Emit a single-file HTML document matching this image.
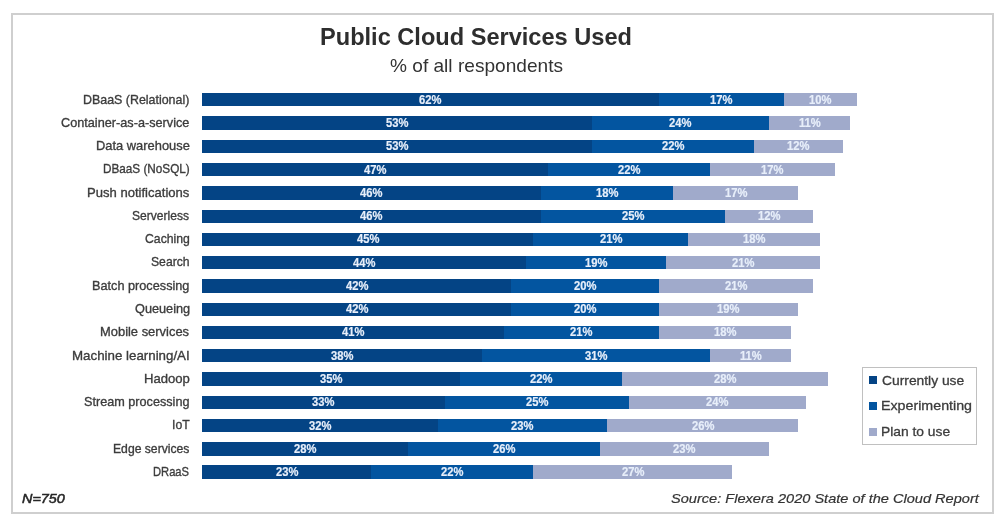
<!DOCTYPE html><html><head><meta charset="utf-8"><style>
html,body{margin:0;padding:0;background:#fff;}
body{width:1005px;height:523px;position:relative;overflow:hidden;font-family:"Liberation Sans",sans-serif;}
.frame{position:absolute;left:11px;top:13px;width:983px;height:501px;border:2px solid #cfcfcf;box-sizing:border-box;}
.b{position:absolute;}
.t{position:absolute;white-space:nowrap;transform-origin:0 0;font-family:"Liberation Sans",sans-serif;}
</style></head><body>
<div id="w" style="position:absolute;left:0;top:0;width:1005px;height:523px;filter:blur(0.4px);"><div class="frame"></div>
<div class="t" style="left:320.04px;top:25.26px;font-size:24.5px;line-height:24.5px;font-weight:bold;font-style:normal;color:#2e2e2e;transform:scaleX(0.9625);">Public Cloud Services Used</div>
<div class="t" style="left:389.60px;top:58.33px;font-size:17.8px;line-height:17.8px;font-weight:normal;font-style:normal;color:#333333;transform:scaleX(1.0736);">% of all respondents</div>
<div class="b" style="left:202.20px;top:93.15px;width:456.32px;height:13.35px;background:#044485;"></div>
<div class="b" style="left:658.52px;top:93.15px;width:125.12px;height:13.35px;background:#0355a0;"></div>
<div class="b" style="left:783.64px;top:93.15px;width:73.60px;height:13.35px;background:#a0aacb;"></div>
<div class="t" style="left:83.37px;top:92.57px;font-size:13.3px;line-height:13.3px;font-weight:normal;font-style:normal;color:#3c3c3c;transform:scaleX(0.9343);-webkit-text-stroke:0.35px #3c3c3c;">DBaaS (Relational)</div>
<div class="b" style="left:202.20px;top:116.42px;width:390.08px;height:13.35px;background:#044485;"></div>
<div class="b" style="left:592.28px;top:116.42px;width:176.64px;height:13.35px;background:#0355a0;"></div>
<div class="b" style="left:768.92px;top:116.42px;width:80.96px;height:13.35px;background:#a0aacb;"></div>
<div class="t" style="left:61.30px;top:115.84px;font-size:13.3px;line-height:13.3px;font-weight:normal;font-style:normal;color:#3c3c3c;transform:scaleX(0.9545);-webkit-text-stroke:0.35px #3c3c3c;">Container-as-a-service</div>
<div class="b" style="left:202.20px;top:139.69px;width:390.08px;height:13.35px;background:#044485;"></div>
<div class="b" style="left:592.28px;top:139.69px;width:161.92px;height:13.35px;background:#0355a0;"></div>
<div class="b" style="left:754.20px;top:139.69px;width:88.32px;height:13.35px;background:#a0aacb;"></div>
<div class="t" style="left:95.83px;top:139.11px;font-size:13.3px;line-height:13.3px;font-weight:normal;font-style:normal;color:#3c3c3c;transform:scaleX(0.9692);-webkit-text-stroke:0.35px #3c3c3c;">Data warehouse</div>
<div class="b" style="left:202.20px;top:162.96px;width:345.92px;height:13.35px;background:#044485;"></div>
<div class="b" style="left:548.12px;top:162.96px;width:161.92px;height:13.35px;background:#0355a0;"></div>
<div class="b" style="left:710.04px;top:162.96px;width:125.12px;height:13.35px;background:#a0aacb;"></div>
<div class="t" style="left:102.92px;top:162.38px;font-size:13.3px;line-height:13.3px;font-weight:normal;font-style:normal;color:#3c3c3c;transform:scaleX(0.8827);-webkit-text-stroke:0.35px #3c3c3c;">DBaaS (NoSQL)</div>
<div class="b" style="left:202.20px;top:186.23px;width:338.56px;height:13.35px;background:#044485;"></div>
<div class="b" style="left:540.76px;top:186.23px;width:132.48px;height:13.35px;background:#0355a0;"></div>
<div class="b" style="left:673.24px;top:186.23px;width:125.12px;height:13.35px;background:#a0aacb;"></div>
<div class="t" style="left:86.62px;top:185.65px;font-size:13.3px;line-height:13.3px;font-weight:normal;font-style:normal;color:#3c3c3c;transform:scaleX(0.9819);-webkit-text-stroke:0.35px #3c3c3c;">Push notifications</div>
<div class="b" style="left:202.20px;top:209.50px;width:338.56px;height:13.35px;background:#044485;"></div>
<div class="b" style="left:540.76px;top:209.50px;width:184.00px;height:13.35px;background:#0355a0;"></div>
<div class="b" style="left:724.76px;top:209.50px;width:88.32px;height:13.35px;background:#a0aacb;"></div>
<div class="t" style="left:132.00px;top:208.92px;font-size:13.3px;line-height:13.3px;font-weight:normal;font-style:normal;color:#3c3c3c;transform:scaleX(0.9072);-webkit-text-stroke:0.35px #3c3c3c;">Serverless</div>
<div class="b" style="left:202.20px;top:232.77px;width:331.20px;height:13.35px;background:#044485;"></div>
<div class="b" style="left:533.40px;top:232.77px;width:154.56px;height:13.35px;background:#0355a0;"></div>
<div class="b" style="left:687.96px;top:232.77px;width:132.48px;height:13.35px;background:#a0aacb;"></div>
<div class="t" style="left:144.80px;top:232.19px;font-size:13.3px;line-height:13.3px;font-weight:normal;font-style:normal;color:#3c3c3c;transform:scaleX(0.9196);-webkit-text-stroke:0.35px #3c3c3c;">Caching</div>
<div class="b" style="left:202.20px;top:256.04px;width:323.84px;height:13.35px;background:#044485;"></div>
<div class="b" style="left:526.04px;top:256.04px;width:139.84px;height:13.35px;background:#0355a0;"></div>
<div class="b" style="left:665.88px;top:256.04px;width:154.56px;height:13.35px;background:#a0aacb;"></div>
<div class="t" style="left:151.10px;top:255.46px;font-size:13.3px;line-height:13.3px;font-weight:normal;font-style:normal;color:#3c3c3c;transform:scaleX(0.9153);-webkit-text-stroke:0.35px #3c3c3c;">Search</div>
<div class="b" style="left:202.20px;top:279.31px;width:309.12px;height:13.35px;background:#044485;"></div>
<div class="b" style="left:511.32px;top:279.31px;width:147.20px;height:13.35px;background:#0355a0;"></div>
<div class="b" style="left:658.52px;top:279.31px;width:154.56px;height:13.35px;background:#a0aacb;"></div>
<div class="t" style="left:92.24px;top:278.73px;font-size:13.3px;line-height:13.3px;font-weight:normal;font-style:normal;color:#3c3c3c;transform:scaleX(0.9552);-webkit-text-stroke:0.35px #3c3c3c;">Batch processing</div>
<div class="b" style="left:202.20px;top:302.58px;width:309.12px;height:13.35px;background:#044485;"></div>
<div class="b" style="left:511.32px;top:302.58px;width:147.20px;height:13.35px;background:#0355a0;"></div>
<div class="b" style="left:658.52px;top:302.58px;width:139.84px;height:13.35px;background:#a0aacb;"></div>
<div class="t" style="left:134.50px;top:302.00px;font-size:13.3px;line-height:13.3px;font-weight:normal;font-style:normal;color:#3c3c3c;transform:scaleX(0.9568);-webkit-text-stroke:0.35px #3c3c3c;">Queueing</div>
<div class="b" style="left:202.20px;top:325.85px;width:301.76px;height:13.35px;background:#044485;"></div>
<div class="b" style="left:503.96px;top:325.85px;width:154.56px;height:13.35px;background:#0355a0;"></div>
<div class="b" style="left:658.52px;top:325.85px;width:132.48px;height:13.35px;background:#a0aacb;"></div>
<div class="t" style="left:99.93px;top:325.27px;font-size:13.3px;line-height:13.3px;font-weight:normal;font-style:normal;color:#3c3c3c;transform:scaleX(0.9716);-webkit-text-stroke:0.35px #3c3c3c;">Mobile services</div>
<div class="b" style="left:202.20px;top:349.12px;width:279.68px;height:13.35px;background:#044485;"></div>
<div class="b" style="left:481.88px;top:349.12px;width:228.16px;height:13.35px;background:#0355a0;"></div>
<div class="b" style="left:710.04px;top:349.12px;width:80.96px;height:13.35px;background:#a0aacb;"></div>
<div class="t" style="left:72.30px;top:348.54px;font-size:13.3px;line-height:13.3px;font-weight:normal;font-style:normal;color:#3c3c3c;transform:scaleX(1.0015);-webkit-text-stroke:0.35px #3c3c3c;">Machine learning/AI</div>
<div class="b" style="left:202.20px;top:372.39px;width:257.60px;height:13.35px;background:#044485;"></div>
<div class="b" style="left:459.80px;top:372.39px;width:161.92px;height:13.35px;background:#0355a0;"></div>
<div class="b" style="left:621.72px;top:372.39px;width:206.08px;height:13.35px;background:#a0aacb;"></div>
<div class="t" style="left:143.82px;top:371.81px;font-size:13.3px;line-height:13.3px;font-weight:normal;font-style:normal;color:#3c3c3c;transform:scaleX(0.9849);-webkit-text-stroke:0.35px #3c3c3c;">Hadoop</div>
<div class="b" style="left:202.20px;top:395.66px;width:242.88px;height:13.35px;background:#044485;"></div>
<div class="b" style="left:445.08px;top:395.66px;width:184.00px;height:13.35px;background:#0355a0;"></div>
<div class="b" style="left:629.08px;top:395.66px;width:176.64px;height:13.35px;background:#a0aacb;"></div>
<div class="t" style="left:84.20px;top:395.08px;font-size:13.3px;line-height:13.3px;font-weight:normal;font-style:normal;color:#3c3c3c;transform:scaleX(0.9515);-webkit-text-stroke:0.35px #3c3c3c;">Stream processing</div>
<div class="b" style="left:202.20px;top:418.93px;width:235.52px;height:13.35px;background:#044485;"></div>
<div class="b" style="left:437.72px;top:418.93px;width:169.28px;height:13.35px;background:#0355a0;"></div>
<div class="b" style="left:607.00px;top:418.93px;width:191.36px;height:13.35px;background:#a0aacb;"></div>
<div class="t" style="left:171.78px;top:418.35px;font-size:13.3px;line-height:13.3px;font-weight:normal;font-style:normal;color:#3c3c3c;transform:scaleX(0.9177);-webkit-text-stroke:0.35px #3c3c3c;">IoT</div>
<div class="b" style="left:202.20px;top:442.20px;width:206.08px;height:13.35px;background:#044485;"></div>
<div class="b" style="left:408.28px;top:442.20px;width:191.36px;height:13.35px;background:#0355a0;"></div>
<div class="b" style="left:599.64px;top:442.20px;width:169.28px;height:13.35px;background:#a0aacb;"></div>
<div class="t" style="left:112.59px;top:441.62px;font-size:13.3px;line-height:13.3px;font-weight:normal;font-style:normal;color:#3c3c3c;transform:scaleX(0.9147);-webkit-text-stroke:0.35px #3c3c3c;">Edge services</div>
<div class="b" style="left:202.20px;top:465.47px;width:169.28px;height:13.35px;background:#044485;"></div>
<div class="b" style="left:371.48px;top:465.47px;width:161.92px;height:13.35px;background:#0355a0;"></div>
<div class="b" style="left:533.40px;top:465.47px;width:198.72px;height:13.35px;background:#a0aacb;"></div>
<div class="t" style="left:153.16px;top:464.89px;font-size:13.3px;line-height:13.3px;font-weight:normal;font-style:normal;color:#3c3c3c;transform:scaleX(0.8406);-webkit-text-stroke:0.35px #3c3c3c;">DRaaS</div>
<div class="t" style="left:419.21px;top:93.72px;font-size:12.5px;line-height:12.5px;font-weight:bold;font-style:normal;color:#e8effa;transform:scaleX(0.8954);-webkit-text-stroke:0.2px #e8effa;">62%</div>
<div class="t" style="left:709.93px;top:93.72px;font-size:12.5px;line-height:12.5px;font-weight:bold;font-style:normal;color:#e8effa;transform:scaleX(0.8954);-webkit-text-stroke:0.2px #e8effa;">17%</div>
<div class="t" style="left:809.29px;top:93.72px;font-size:12.5px;line-height:12.5px;font-weight:bold;font-style:normal;color:#e8effa;transform:scaleX(0.8954);-webkit-text-stroke:0.2px #e8effa;">10%</div>
<div class="t" style="left:386.09px;top:116.99px;font-size:12.5px;line-height:12.5px;font-weight:bold;font-style:normal;color:#e8effa;transform:scaleX(0.8954);-webkit-text-stroke:0.2px #e8effa;">53%</div>
<div class="t" style="left:669.45px;top:116.99px;font-size:12.5px;line-height:12.5px;font-weight:bold;font-style:normal;color:#e8effa;transform:scaleX(0.8954);-webkit-text-stroke:0.2px #e8effa;">24%</div>
<div class="t" style="left:798.56px;top:116.99px;font-size:12.5px;line-height:12.5px;font-weight:bold;font-style:normal;color:#e8effa;transform:scaleX(0.8954);-webkit-text-stroke:0.2px #e8effa;">11%</div>
<div class="t" style="left:386.09px;top:140.26px;font-size:12.5px;line-height:12.5px;font-weight:bold;font-style:normal;color:#e8effa;transform:scaleX(0.8954);-webkit-text-stroke:0.2px #e8effa;">53%</div>
<div class="t" style="left:662.09px;top:140.26px;font-size:12.5px;line-height:12.5px;font-weight:bold;font-style:normal;color:#e8effa;transform:scaleX(0.8954);-webkit-text-stroke:0.2px #e8effa;">22%</div>
<div class="t" style="left:787.21px;top:140.26px;font-size:12.5px;line-height:12.5px;font-weight:bold;font-style:normal;color:#e8effa;transform:scaleX(0.8954);-webkit-text-stroke:0.2px #e8effa;">12%</div>
<div class="t" style="left:364.01px;top:163.53px;font-size:12.5px;line-height:12.5px;font-weight:bold;font-style:normal;color:#e8effa;transform:scaleX(0.8954);-webkit-text-stroke:0.2px #e8effa;">47%</div>
<div class="t" style="left:617.93px;top:163.53px;font-size:12.5px;line-height:12.5px;font-weight:bold;font-style:normal;color:#e8effa;transform:scaleX(0.8954);-webkit-text-stroke:0.2px #e8effa;">22%</div>
<div class="t" style="left:761.45px;top:163.53px;font-size:12.5px;line-height:12.5px;font-weight:bold;font-style:normal;color:#e8effa;transform:scaleX(0.8954);-webkit-text-stroke:0.2px #e8effa;">17%</div>
<div class="t" style="left:360.33px;top:186.80px;font-size:12.5px;line-height:12.5px;font-weight:bold;font-style:normal;color:#e8effa;transform:scaleX(0.8954);-webkit-text-stroke:0.2px #e8effa;">46%</div>
<div class="t" style="left:595.85px;top:186.80px;font-size:12.5px;line-height:12.5px;font-weight:bold;font-style:normal;color:#e8effa;transform:scaleX(0.8954);-webkit-text-stroke:0.2px #e8effa;">18%</div>
<div class="t" style="left:724.65px;top:186.80px;font-size:12.5px;line-height:12.5px;font-weight:bold;font-style:normal;color:#e8effa;transform:scaleX(0.8954);-webkit-text-stroke:0.2px #e8effa;">17%</div>
<div class="t" style="left:360.33px;top:210.07px;font-size:12.5px;line-height:12.5px;font-weight:bold;font-style:normal;color:#e8effa;transform:scaleX(0.8954);-webkit-text-stroke:0.2px #e8effa;">46%</div>
<div class="t" style="left:621.61px;top:210.07px;font-size:12.5px;line-height:12.5px;font-weight:bold;font-style:normal;color:#e8effa;transform:scaleX(0.8954);-webkit-text-stroke:0.2px #e8effa;">25%</div>
<div class="t" style="left:757.77px;top:210.07px;font-size:12.5px;line-height:12.5px;font-weight:bold;font-style:normal;color:#e8effa;transform:scaleX(0.8954);-webkit-text-stroke:0.2px #e8effa;">12%</div>
<div class="t" style="left:356.65px;top:233.34px;font-size:12.5px;line-height:12.5px;font-weight:bold;font-style:normal;color:#e8effa;transform:scaleX(0.8954);-webkit-text-stroke:0.2px #e8effa;">45%</div>
<div class="t" style="left:599.53px;top:233.34px;font-size:12.5px;line-height:12.5px;font-weight:bold;font-style:normal;color:#e8effa;transform:scaleX(0.8954);-webkit-text-stroke:0.2px #e8effa;">21%</div>
<div class="t" style="left:743.05px;top:233.34px;font-size:12.5px;line-height:12.5px;font-weight:bold;font-style:normal;color:#e8effa;transform:scaleX(0.8954);-webkit-text-stroke:0.2px #e8effa;">18%</div>
<div class="t" style="left:352.97px;top:256.61px;font-size:12.5px;line-height:12.5px;font-weight:bold;font-style:normal;color:#e8effa;transform:scaleX(0.8954);-webkit-text-stroke:0.2px #e8effa;">44%</div>
<div class="t" style="left:584.81px;top:256.61px;font-size:12.5px;line-height:12.5px;font-weight:bold;font-style:normal;color:#e8effa;transform:scaleX(0.8954);-webkit-text-stroke:0.2px #e8effa;">19%</div>
<div class="t" style="left:732.01px;top:256.61px;font-size:12.5px;line-height:12.5px;font-weight:bold;font-style:normal;color:#e8effa;transform:scaleX(0.8954);-webkit-text-stroke:0.2px #e8effa;">21%</div>
<div class="t" style="left:345.61px;top:279.88px;font-size:12.5px;line-height:12.5px;font-weight:bold;font-style:normal;color:#e8effa;transform:scaleX(0.8954);-webkit-text-stroke:0.2px #e8effa;">42%</div>
<div class="t" style="left:573.77px;top:279.88px;font-size:12.5px;line-height:12.5px;font-weight:bold;font-style:normal;color:#e8effa;transform:scaleX(0.8954);-webkit-text-stroke:0.2px #e8effa;">20%</div>
<div class="t" style="left:724.65px;top:279.88px;font-size:12.5px;line-height:12.5px;font-weight:bold;font-style:normal;color:#e8effa;transform:scaleX(0.8954);-webkit-text-stroke:0.2px #e8effa;">21%</div>
<div class="t" style="left:345.61px;top:303.15px;font-size:12.5px;line-height:12.5px;font-weight:bold;font-style:normal;color:#e8effa;transform:scaleX(0.8954);-webkit-text-stroke:0.2px #e8effa;">42%</div>
<div class="t" style="left:573.77px;top:303.15px;font-size:12.5px;line-height:12.5px;font-weight:bold;font-style:normal;color:#e8effa;transform:scaleX(0.8954);-webkit-text-stroke:0.2px #e8effa;">20%</div>
<div class="t" style="left:717.29px;top:303.15px;font-size:12.5px;line-height:12.5px;font-weight:bold;font-style:normal;color:#e8effa;transform:scaleX(0.8954);-webkit-text-stroke:0.2px #e8effa;">19%</div>
<div class="t" style="left:341.93px;top:326.42px;font-size:12.5px;line-height:12.5px;font-weight:bold;font-style:normal;color:#e8effa;transform:scaleX(0.8954);-webkit-text-stroke:0.2px #e8effa;">41%</div>
<div class="t" style="left:570.09px;top:326.42px;font-size:12.5px;line-height:12.5px;font-weight:bold;font-style:normal;color:#e8effa;transform:scaleX(0.8954);-webkit-text-stroke:0.2px #e8effa;">21%</div>
<div class="t" style="left:713.61px;top:326.42px;font-size:12.5px;line-height:12.5px;font-weight:bold;font-style:normal;color:#e8effa;transform:scaleX(0.8954);-webkit-text-stroke:0.2px #e8effa;">18%</div>
<div class="t" style="left:330.89px;top:349.69px;font-size:12.5px;line-height:12.5px;font-weight:bold;font-style:normal;color:#e8effa;transform:scaleX(0.8954);-webkit-text-stroke:0.2px #e8effa;">38%</div>
<div class="t" style="left:584.81px;top:349.69px;font-size:12.5px;line-height:12.5px;font-weight:bold;font-style:normal;color:#e8effa;transform:scaleX(0.8954);-webkit-text-stroke:0.2px #e8effa;">31%</div>
<div class="t" style="left:739.68px;top:349.69px;font-size:12.5px;line-height:12.5px;font-weight:bold;font-style:normal;color:#e8effa;transform:scaleX(0.8954);-webkit-text-stroke:0.2px #e8effa;">11%</div>
<div class="t" style="left:319.85px;top:372.96px;font-size:12.5px;line-height:12.5px;font-weight:bold;font-style:normal;color:#e8effa;transform:scaleX(0.8954);-webkit-text-stroke:0.2px #e8effa;">35%</div>
<div class="t" style="left:529.61px;top:372.96px;font-size:12.5px;line-height:12.5px;font-weight:bold;font-style:normal;color:#e8effa;transform:scaleX(0.8954);-webkit-text-stroke:0.2px #e8effa;">22%</div>
<div class="t" style="left:713.61px;top:372.96px;font-size:12.5px;line-height:12.5px;font-weight:bold;font-style:normal;color:#e8effa;transform:scaleX(0.8954);-webkit-text-stroke:0.2px #e8effa;">28%</div>
<div class="t" style="left:312.49px;top:396.23px;font-size:12.5px;line-height:12.5px;font-weight:bold;font-style:normal;color:#e8effa;transform:scaleX(0.8954);-webkit-text-stroke:0.2px #e8effa;">33%</div>
<div class="t" style="left:525.93px;top:396.23px;font-size:12.5px;line-height:12.5px;font-weight:bold;font-style:normal;color:#e8effa;transform:scaleX(0.8954);-webkit-text-stroke:0.2px #e8effa;">25%</div>
<div class="t" style="left:706.25px;top:396.23px;font-size:12.5px;line-height:12.5px;font-weight:bold;font-style:normal;color:#e8effa;transform:scaleX(0.8954);-webkit-text-stroke:0.2px #e8effa;">24%</div>
<div class="t" style="left:308.81px;top:419.50px;font-size:12.5px;line-height:12.5px;font-weight:bold;font-style:normal;color:#e8effa;transform:scaleX(0.8954);-webkit-text-stroke:0.2px #e8effa;">32%</div>
<div class="t" style="left:511.21px;top:419.50px;font-size:12.5px;line-height:12.5px;font-weight:bold;font-style:normal;color:#e8effa;transform:scaleX(0.8954);-webkit-text-stroke:0.2px #e8effa;">23%</div>
<div class="t" style="left:691.53px;top:419.50px;font-size:12.5px;line-height:12.5px;font-weight:bold;font-style:normal;color:#e8effa;transform:scaleX(0.8954);-webkit-text-stroke:0.2px #e8effa;">26%</div>
<div class="t" style="left:294.09px;top:442.77px;font-size:12.5px;line-height:12.5px;font-weight:bold;font-style:normal;color:#e8effa;transform:scaleX(0.8954);-webkit-text-stroke:0.2px #e8effa;">28%</div>
<div class="t" style="left:492.81px;top:442.77px;font-size:12.5px;line-height:12.5px;font-weight:bold;font-style:normal;color:#e8effa;transform:scaleX(0.8954);-webkit-text-stroke:0.2px #e8effa;">26%</div>
<div class="t" style="left:673.13px;top:442.77px;font-size:12.5px;line-height:12.5px;font-weight:bold;font-style:normal;color:#e8effa;transform:scaleX(0.8954);-webkit-text-stroke:0.2px #e8effa;">23%</div>
<div class="t" style="left:275.69px;top:466.04px;font-size:12.5px;line-height:12.5px;font-weight:bold;font-style:normal;color:#e8effa;transform:scaleX(0.8954);-webkit-text-stroke:0.2px #e8effa;">23%</div>
<div class="t" style="left:441.29px;top:466.04px;font-size:12.5px;line-height:12.5px;font-weight:bold;font-style:normal;color:#e8effa;transform:scaleX(0.8954);-webkit-text-stroke:0.2px #e8effa;">22%</div>
<div class="t" style="left:621.61px;top:466.04px;font-size:12.5px;line-height:12.5px;font-weight:bold;font-style:normal;color:#e8effa;transform:scaleX(0.8954);-webkit-text-stroke:0.2px #e8effa;">27%</div>
<div class="b" style="left:862px;top:367px;width:115px;height:78px;border:1px solid #c0c0c0;box-sizing:border-box;"></div>
<div class="b" style="left:869.3px;top:376.30px;width:8px;height:8px;background:#044485;"></div>
<div class="t" style="left:882.10px;top:373.74px;font-size:13.3px;line-height:13.3px;font-weight:normal;font-style:normal;color:#3c3c3c;transform:scaleX(1.0397);-webkit-text-stroke:0.3px #3c3c3c;">Currently use</div>
<div class="b" style="left:869.3px;top:401.90px;width:8px;height:8px;background:#0355a0;"></div>
<div class="t" style="left:881.03px;top:399.34px;font-size:13.3px;line-height:13.3px;font-weight:normal;font-style:normal;color:#3c3c3c;transform:scaleX(1.0706);-webkit-text-stroke:0.3px #3c3c3c;">Experimenting</div>
<div class="b" style="left:869.3px;top:427.50px;width:8px;height:8px;background:#a0aacb;"></div>
<div class="t" style="left:881.06px;top:424.94px;font-size:13.3px;line-height:13.3px;font-weight:normal;font-style:normal;color:#3c3c3c;transform:scaleX(1.0394);-webkit-text-stroke:0.3px #3c3c3c;">Plan to use</div>
<div class="t" style="left:21.90px;top:491.57px;font-size:13.5px;line-height:13.5px;font-weight:normal;font-style:italic;color:#262626;transform:scaleX(1.0652);-webkit-text-stroke:0.55px #262626;">N=750</div>
<div class="t" style="left:670.50px;top:491.97px;font-size:13.5px;line-height:13.5px;font-weight:normal;font-style:italic;color:#333333;transform:scaleX(1.0795);-webkit-text-stroke:0.2px #333;">Source: Flexera 2020 State of the Cloud Report</div>
</div></body></html>
